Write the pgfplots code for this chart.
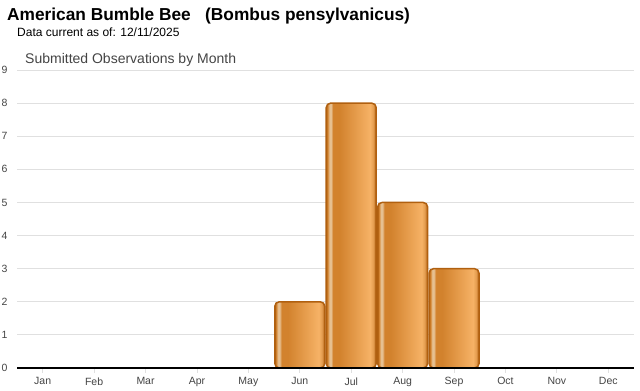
\documentclass[border=0pt]{standalone}
\usepackage{pgfplots}
\pgfplotsset{compat=1.18}
\usepackage{fontspec}
\setmainfont{Liberation Sans}
\definecolor{baredge}{RGB}{176,96,16}
\definecolor{gridc}{RGB}{224,224,224}
\definecolor{tickc}{RGB}{68,68,68}
\definecolor{bcream}{RGB}{230,192,145}
\definecolor{borange}{RGB}{210,130,45}
\definecolor{blight}{RGB}{246,178,102}
\pgfdeclarehorizontalshading{barshade}{100bp}{%
color(0bp)=(baredge);
color(25bp)=(baredge);
color(26.3bp)=(borange);
color(28.2bp)=(bcream);
color(29.8bp)=(bcream);
color(31.8bp)=(borange);
color(38bp)=(borange);
color(69bp)=(blight);
color(72bp)=(blight!75!baredge);
color(75bp)=(baredge);
color(100bp)=(baredge)}
\pgfplotsset{mybar/.style={ybar, bar width=50bp, bar shift=0pt, shading=barshade, draw=baredge, line width=1.5bp, rounded corners=4.5bp}}
\begin{document}
\begin{tikzpicture}[x=1bp,y=1bp]
\path[use as bounding box] (0,0) rectangle (640,390);
\node[anchor=base west,inner sep=0pt,font=\fontsize{17.3bp}{20bp}\selectfont\bfseries] at (7,370) {American Bumble Bee\ \ \ (Bombus pensylvanicus)};
\node[anchor=base west,inner sep=0pt,font=\fontsize{12bp}{14bp}\selectfont] at (17,354) {Data current as of: 12/11/2025};
\node[anchor=base west,inner sep=0pt,font=\fontsize{14bp}{16bp}\selectfont,text=tickc] at (25,327) {Submitted Observations by Month};
\begin{axis}[
  at={(17bp,22bp)}, anchor=south west,
  scale only axis, width=617bp, height=298bp,
  xmin=-0.5, xmax=11.5, ymin=0, ymax=9,
  axis line style={draw=none},
  ytick={0,...,9},
  xtick={0,...,11},
  xticklabels={Jan,Feb,Mar,Apr,May,Jun,Jul,Aug,Sep,Oct,Nov,Dec},
  ymajorgrids, grid style={gridc, line width=0.8bp},
  ytick style={draw=none},
  xtick style={gridc, line width=0.8bp},
  xtick pos=bottom,
  tick align=outside, major tick length=5bp,
  tick label style={font=\fontsize{10.5bp}{12bp}\selectfont, text=tickc},
  /pgf/number format/assume math mode=true,
  yticklabel style={xshift=-1bp},
  xticklabel style={yshift=-1bp},
  clip=false,
]
\addplot[mybar] coordinates {(5,2)};
\addplot[mybar] coordinates {(6,8)};
\addplot[mybar] coordinates {(7,5)};
\addplot[mybar] coordinates {(8,3)};
\draw[black, line width=1.4bp] (axis cs:-0.5,0) -- (axis cs:11.5,0);
\end{axis}
\end{tikzpicture}
\end{document}
